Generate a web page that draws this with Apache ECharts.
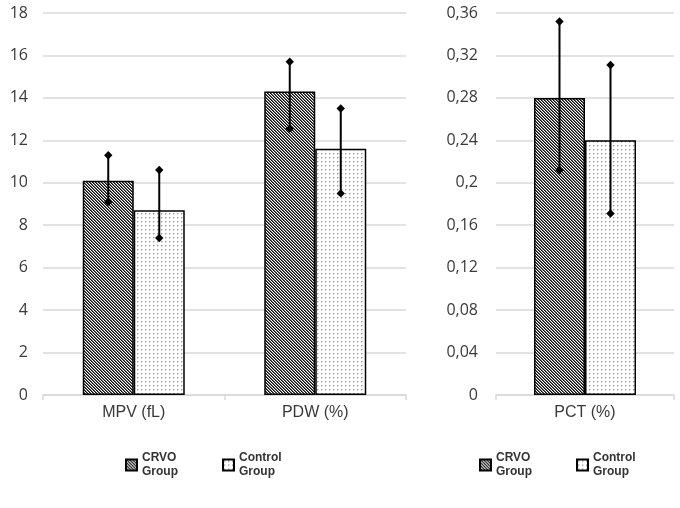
<!DOCTYPE html>
<html>
<head>
<meta charset="utf-8">
<script src="https://cdn.jsdelivr.net/npm/echarts@6/dist/echarts.min.js"></script>
<style>
html,body{margin:0;padding:0;background:#fff;}
#chart{width:680px;height:508px;}
</style>
</head>
<body>
<div id="chart"></div>
<script>
// ---- data ----
const categoriesLeft = ['MPV (fL)', 'PDW (%)'];
const crvoLeft = [10.1, 14.3];
const controlLeft = [8.7, 11.6];
const crvoLeftLow = [9.1, 12.55];
const crvoLeftHigh = [11.3, 15.7];
const controlLeftLow = [7.4, 9.5];
const controlLeftHigh = [10.6, 13.5];

const categoriesRight = ['PCT (%)'];
const crvoRight = [0.28];
const controlRight = [0.24];
const crvoRightLow = [0.212];
const crvoRightHigh = [0.352];
const controlRightLow = [0.171];
const controlRightHigh = [0.311];

const seriesNames = ['CRVO Group', 'Control Group'];

// ---- patterns ----
function makeHatch() {
  const c = document.createElement('canvas');
  c.width = 3; c.height = 3;
  const ctx = c.getContext('2d');
  const img = ctx.createImageData(3, 3);
  const shades = [15, 100, 255];
  for (let y = 0; y < 3; y++) for (let x = 0; x < 3; x++) {
    const m = ((x - y) % 3 + 3) % 3;
    const k = (y * 3 + x) * 4;
    img.data[k] = img.data[k + 1] = img.data[k + 2] = shades[m];
    img.data[k + 3] = 255;
  }
  ctx.putImageData(img, 0, 0);
  return c;
}
function makeDots() {
  const c = document.createElement('canvas');
  c.width = 4; c.height = 4;
  const ctx = c.getContext('2d');
  ctx.fillStyle = '#fff';
  ctx.fillRect(0, 0, 4, 4);
  ctx.fillStyle = '#9a9a9a';
  ctx.fillRect(1, 1, 1, 1);
  ctx.fillStyle = '#d0d0d0';
  ctx.fillRect(2, 1, 1, 1);
  ctx.fillRect(1, 2, 1, 1);
  return c;
}
const hatchFill = { image: makeHatch(), repeat: 'repeat' };
const dotFill = { image: makeDots(), repeat: 'repeat' };

const BAR_W = 51;
const gridColor = '#d9d9d9';
const labelColor = '#3a3a3a';

function errRender(offset) {
  return function (params, api) {
    const c = api.value(0);
    const lo = api.coord([c, api.value(1)]);
    const hi = api.coord([c, api.value(2)]);
    const x = lo[0] + offset;
    const d = 4.2;
    const diamond = (y) => ({
      type: 'polygon',
      shape: { points: [[x, y - d], [x + d, y], [x, y + d], [x - d, y]] },
      style: { fill: '#000' }
    });
    return {
      type: 'group',
      children: [
        { type: 'line', shape: { x1: x, y1: lo[1], x2: x, y2: hi[1] }, style: { stroke: '#000', lineWidth: 2 } },
        diamond(lo[1]),
        diamond(hi[1])
      ]
    };
  };
}

function errData(lo, hi) { return lo.map((v, i) => [i, v, hi[i]]); }

function xAxisCfg(gridIndex, cats) {
  return {
    type: 'category', gridIndex, data: cats, boundaryGap: true,
    axisLine: { lineStyle: { color: gridColor, width: 1.5 } },
    axisTick: { show: true, length: 5, lineStyle: { color: gridColor, width: 1.5 } },
    axisLabel: { color: labelColor, fontFamily: 'Liberation Sans', fontSize: 16, margin: 10 },
    splitLine: { show: false }
  };
}
function yAxisCfg(gridIndex, max, interval) {
  return {
    type: 'value', gridIndex, min: 0, max, interval,
    axisLine: { show: false }, axisTick: { show: false },
    axisLabel: {
      color: labelColor, fontFamily: 'Open Sans', fontSize: 16, margin: gridIndex === 0 ? 15 : 18,
      formatter: v => String(+(+v).toFixed(2)).replace('.', ',')
    },
    splitLine: { lineStyle: { color: gridColor, width: 1.5 } }
  };
}

const barStyle = (fill) => ({ color: fill, borderColor: '#000', borderWidth: 1.5 });

const legendCfg = (left) => ({
  left, top: 451, padding: 0, itemGap: 44, itemWidth: 11, itemHeight: 11,
  icon: 'rect',
  selectedMode: false,
  data: seriesNames,
  formatter: n => n.replace(' ', '\n'),
  textStyle: { fontFamily: 'Liberation Sans', fontWeight: 'bold', fontSize: 12, color: '#333', lineHeight: 14 }
});

const option = {
  backgroundColor: '#fff',
  animation: false,
  grid: [
    { left: 43, top: 13, width: 363, height: 382 },
    { left: 496, top: 13, width: 178, height: 382 }
  ],
  xAxis: [xAxisCfg(0, categoriesLeft), xAxisCfg(1, categoriesRight)],
  yAxis: [yAxisCfg(0, 18, 2), yAxisCfg(1, 0.36, 0.04)],
  legend: [legendCfg(125), legendCfg(479)],
  series: [
    { name: seriesNames[0], type: 'bar', xAxisIndex: 0, yAxisIndex: 0, data: crvoLeft, barWidth: BAR_W, barGap: '0%', itemStyle: barStyle(hatchFill) },
    { name: seriesNames[1], type: 'bar', xAxisIndex: 0, yAxisIndex: 0, data: controlLeft, barWidth: BAR_W, barGap: '0%', itemStyle: barStyle(dotFill) },
    { name: seriesNames[0], type: 'bar', xAxisIndex: 1, yAxisIndex: 1, data: crvoRight, barWidth: BAR_W, barGap: '0%', itemStyle: barStyle(hatchFill) },
    { name: seriesNames[1], type: 'bar', xAxisIndex: 1, yAxisIndex: 1, data: controlRight, barWidth: BAR_W, barGap: '0%', itemStyle: barStyle(dotFill) },
    { type: 'custom', xAxisIndex: 0, yAxisIndex: 0, z: 10, renderItem: errRender(-BAR_W / 2), encode: { x: 0, y: [1, 2] }, data: errData(crvoLeftLow, crvoLeftHigh) },
    { type: 'custom', xAxisIndex: 0, yAxisIndex: 0, z: 10, renderItem: errRender(BAR_W / 2), encode: { x: 0, y: [1, 2] }, data: errData(controlLeftLow, controlLeftHigh) },
    { type: 'custom', xAxisIndex: 1, yAxisIndex: 1, z: 10, renderItem: errRender(-BAR_W / 2), encode: { x: 0, y: [1, 2] }, data: errData(crvoRightLow, crvoRightHigh) },
    { type: 'custom', xAxisIndex: 1, yAxisIndex: 1, z: 10, renderItem: errRender(BAR_W / 2), encode: { x: 0, y: [1, 2] }, data: errData(controlRightLow, controlRightHigh) }
  ]
};

const chart = echarts.init(document.getElementById('chart'), null, { renderer: 'canvas' });
chart.setOption(option);
</script>
</body>
</html>
